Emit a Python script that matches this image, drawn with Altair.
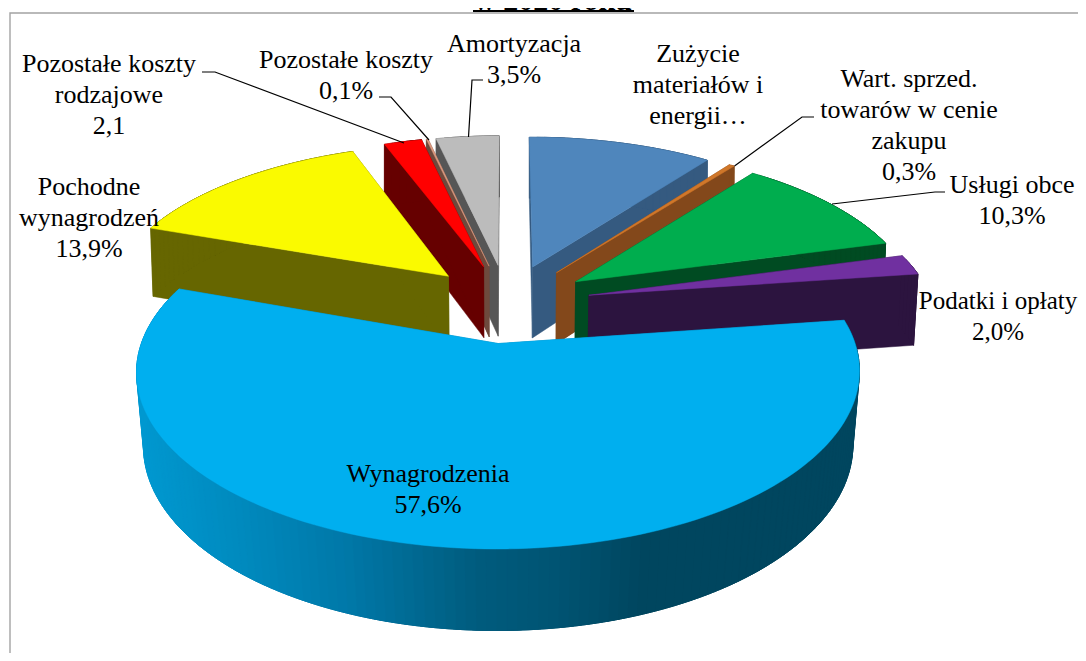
import math
import altair as alt

# ---- chart data -------------------------------------------------------
categories = ["Zużycie materiałów i energii", "Wart. sprzed. towarów w cenie zakupu",
              "Usługi obce", "Podatki i opłaty", "Wynagrodzenia",
              "Pochodne wynagrodzeń", "Pozostałe koszty rodzajowe",
              "Pozostałe koszty", "Amortyzacja"]
shares = [10.2, 0.3, 10.3, 2.0, 57.6, 13.9, 2.1, 0.1, 3.5]
top_colors = ["#4f86bc", "#d0772a", "#00ad4e", "#7030a0", "#00afef",
              "#fafa00", "#ff0000", "#dd9a80", "#bcbcbc"]
wall_colors = ["#355a80", "#83481b", "#004b22", "#2c143f", "#0080b0",
               "#666600", "#660000", "#6e4a3d", "#565656"]
paint_order = [8, 7, 6, 5, 0, 1, 2, 3, 4]
label_lines = [["Zużycie", "materiałów i", "energii…"],
               ["Wart. sprzed.", "towarów w cenie", "zakupu", "0,3%"],
               ["Usługi obce", "10,3%"],
               ["Podatki i opłaty", "2,0%"],
               ["Wynagrodzenia", "57,6%"],
               ["Pochodne", "wynagrodzeń", "13,9%"],
               ["Pozostałe koszty", "rodzajowe", "2,1"],
               ["Pozostałe koszty", "0,1%"],
               ["Amortyzacja", "3,5%"]]
title_text = "w 2020 roku"

# ---- layout (page pixels) ---------------------------------------------
label_x = [698, 909, 1012, 998, 428, 89, 109, 346, 514]
label_y = [62, 87, 193, 309, 482, 195, 72, 68, 52]
label_size = [26, 26, 26, 25, 26, 26, 26, 26, 26]
line_step = 31
leaders = {
    1: [(814, 117), (802, 117), (734.5, 166)],
    2: [(945, 192), (935, 192), (832, 204)],
    6: [(202, 72), (215, 72), (404, 143)],
    7: [(379, 97), (391, 97), (429, 140)],
    8: [(483, 80), (472, 80), (468.5, 137)],
}
W, H = 1070, 645
CX, TOP_Y, BOT_Y = 507, 303, 376
TOP_A, TOP_B, TOP_K = 343.5, 160, 0.1535
BOT_A, BOT_B, BOT_K = 339, 169, 0.14
EXPLODE = 0.245
wyn_stops = [(140, (0, 152, 208)), (240, (0, 138, 190)), (350, (0, 120, 168)),
             (480, (0, 92, 126)), (560, (0, 84, 115)), (650, (0, 70, 95)), (860, (0, 70, 95))]


def top_pt(u, v):
    d = 1 + TOP_K * v
    return [CX + TOP_A * u / d, TOP_Y - TOP_B * v / d]


def bot_pt(u, v):
    d = 1 + BOT_K * v
    return [CX + BOT_A * u / d, BOT_Y - BOT_B * v / d]


def wyn_color(x):
    if x <= wyn_stops[0][0]:
        c = wyn_stops[0][1]
    elif x >= wyn_stops[-1][0]:
        c = wyn_stops[-1][1]
    else:
        for (a, ca), (b, cb) in zip(wyn_stops, wyn_stops[1:]):
            if a <= x <= b:
                t = (x - a) / (b - a)
                c = tuple(ca[i] + (cb[i] - ca[i]) * t for i in range(3))
                break
    return "#%02x%02x%02x" % tuple(int(round(q)) for q in c)


def feature(ring, fill, name):
    ring = list(ring) + [ring[0]]
    return {"type": "Feature", "properties": {"fill": fill, "name": name},
            "geometry": {"type": "Polygon", "coordinates": [ring]}}


total = sum(shares)
starts, s = [], 0.0
for v in shares:
    starts.append(s)
    s += v

features = []
for i in paint_order:
    a0 = starts[i] / total * 2 * math.pi
    a1 = (starts[i] + shares[i]) / total * 2 * math.pi
    mid = (a0 + a1) / 2
    u0, v0 = EXPLODE * math.sin(mid), EXPLODE * math.cos(mid)
    n = max(2, int((a1 - a0) * 40))
    uv = []
    for k in range(n + 1):
        a = a0 + (a1 - a0) * k / n
        uv.append((u0 + math.sin(a), v0 + math.cos(a)))
    name = categories[i]
    # radial walls
    for p in (uv[0], uv[-1]):
        features.append(feature([top_pt(u0, v0), top_pt(*p), bot_pt(*p), bot_pt(u0, v0)],
                                wall_colors[i], name))
    # outer wall, in overlapping strips (right to left, so no seams show)
    for k in range(n):
        e = min(n, k + 4)
        seg = uv[k:e + 1]
        ring = [top_pt(*p) for p in seg] + [bot_pt(*p) for p in reversed(seg)]
        fill = wall_colors[i]
        if i == 4:
            fill = wyn_color(top_pt(*uv[k])[0])
        features.append(feature(ring, fill, name))
    # top face
    features.append(feature([top_pt(u0, v0)] + [top_pt(*p) for p in uv], top_colors[i], name))

pie = alt.Chart(alt.InlineData(values={"type": "FeatureCollection", "features": features},
                               format=alt.DataFormat(type="json", property="features"))).mark_geoshape(
    strokeWidth=0.5
).encode(
    fill=alt.Color("properties.fill:N", scale=None),
    stroke=alt.Color("properties.fill:N", scale=None),
).project(type="identity", scale=1, translate=[-8, -8])

xs = alt.Scale(domain=[8, 8 + W], range=[0, W])
ys = alt.Scale(domain=[8, 8 + H], range=[0, H])

frame_rows = [{"x": 10, "y": 8 + H, "k": 0}, {"x": 10, "y": 13, "k": 1}, {"x": 8 + W, "y": 13, "k": 2}]
frame = alt.Chart(alt.Data(values=frame_rows)).mark_line(color="#a3a3a3", strokeWidth=1.4).encode(
    x=alt.X("x:Q", scale=xs, axis=None), y=alt.Y("y:Q", scale=ys, axis=None), order="k:Q")

leader_rows = []
for i, pts in leaders.items():
    for k, (x, y) in enumerate(pts):
        leader_rows.append({"x": x, "y": y, "k": k, "s": categories[i]})
leader = alt.Chart(alt.Data(values=leader_rows)).mark_line(color="#000000", strokeWidth=1.2).encode(
    x=alt.X("x:Q", scale=xs, axis=None), y=alt.Y("y:Q", scale=ys, axis=None),
    detail="s:N", order="k:Q")

text_rows = []
for i, lines in enumerate(label_lines):
    for k, t in enumerate(lines):
        text_rows.append({"x": label_x[i], "y": label_y[i] + k * line_step, "t": t, "z": label_size[i]})
labels = alt.Chart(alt.Data(values=text_rows)).mark_text(
    font="Liberation Serif", color="#000000", align="center", baseline="alphabetic"
).encode(x=alt.X("x:Q", scale=xs, axis=None), y=alt.Y("y:Q", scale=ys, axis=None), text="t:N",
         size=alt.Size("z:Q", scale=None, legend=None))

title = alt.Chart(alt.Data(values=[{"x": 553, "y": 10, "t": title_text}])).mark_text(
    font="Liberation Serif", fontSize=30, fontWeight="bold", color="#000000", align="center",
    baseline="alphabetic"
).encode(x=alt.X("x:Q", scale=xs, axis=None), y=alt.Y("y:Q", scale=ys, axis=None), text="t:N")

underline_rows = [{"x": 473, "y": 11, "k": 0}, {"x": 634, "y": 11, "k": 1}]
underline = alt.Chart(alt.Data(values=underline_rows)).mark_line(color="#000000", strokeWidth=2).encode(
    x=alt.X("x:Q", scale=xs, axis=None), y=alt.Y("y:Q", scale=ys, axis=None), order="k:Q")

chart = alt.layer(frame, pie, leader, labels, title, underline).properties(
    width=W, height=H, padding=0, autosize=alt.AutoSizeParams(type="none"),
    background="#ffffff"
).configure_view(stroke=None)

chart.save("out.html", embed_options={"renderer": "svg", "actions": False})
